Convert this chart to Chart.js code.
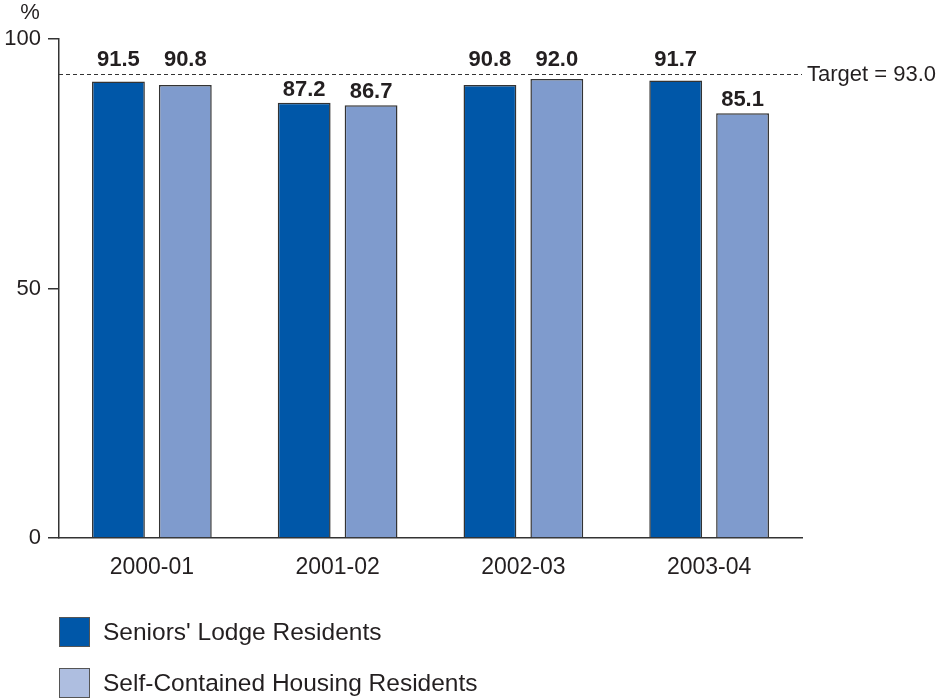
<!DOCTYPE html>
<html>
<head>
<meta charset="utf-8">
<script src="https://cdn.jsdelivr.net/npm/chart.js@4.4.1/dist/chart.umd.min.js"></script>
<style>
  html, body { margin: 0; padding: 0; background: #fff; }
  #wrap { position: relative; width: 940px; height: 698px; font-family: "Liberation Sans", Arial, sans-serif; color: #231f20; }
  #chart { position: absolute; left: 0; top: 0; }
  .leg { position: absolute; left: 59px; display: flex; align-items: center; font-size: 24.5px; }
  .leg .box { width: 29px; height: 28px; border: 1.5px solid #555; margin-right: 13px; }
</style>
</head>
<body>
<div id="wrap">
  <canvas id="chart" width="940" height="698"></canvas>
  <div class="leg" style="top:617px"><span class="box" style="background:#0057a8"></span><span id="leg0"></span></div>
  <div class="leg" style="top:668px"><span class="box" style="background:#aebee0"></span><span id="leg1"></span></div>
</div>
<script>
// ---- dados ----
const years = ['2000-01', '2001-02', '2002-03', '2003-04'];
const seriesNames = ["Seniors' Lodge Residents", 'Self-Contained Housing Residents'];
const lodge = [91.5, 87.2, 90.8, 91.7];
const selfContained = [90.8, 86.7, 92.0, 85.1];
const yTicks = [0, 50, 100];
const TARGET = 93.0;

const INK = '#231f20';
const FONT = '"Liberation Sans", Arial, sans-serif';

document.getElementById('leg0').textContent = seriesNames[0];
document.getElementById('leg1').textContent = seriesNames[1];

// linha de meta tracejada + rótulo à direita
const targetLine = {
  id: 'targetLine',
  beforeDatasetsDraw(chart) {
    const { ctx, chartArea, scales } = chart;
    const y = Math.round(scales.y.getPixelForValue(TARGET)) + 0.5;
    ctx.save();
    ctx.strokeStyle = '#333';
    ctx.lineWidth = 1;
    ctx.setLineDash([4, 3]);
    ctx.beginPath();
    ctx.moveTo(chartArea.left, y);
    ctx.lineTo(chartArea.right, y);
    ctx.stroke();
    ctx.setLineDash([]);
    ctx.fillStyle = INK;
    ctx.font = '22px ' + FONT;
    ctx.textAlign = 'left';
    ctx.textBaseline = 'middle';
    ctx.fillText('Target = ' + TARGET.toFixed(1), chartArea.right + 5, y);
    // unidade acima do eixo
    ctx.font = '22px ' + FONT;
    ctx.textAlign = 'center';
    ctx.fillText('%', 30, 13);
    ctx.restore();
  }
};

// valores em cima das barras (sobem acima da meta quando encostam nela)
const barValues = {
  id: 'barValues',
  afterDatasetsDraw(chart) {
    const { ctx, scales } = chart;
    const ty = scales.y.getPixelForValue(TARGET);
    ctx.save();
    ctx.fillStyle = INK;
    ctx.font = 'bold 22px ' + FONT;
    ctx.textAlign = 'center';
    ctx.textBaseline = 'alphabetic';
    chart.data.datasets.forEach((ds, i) => {
      chart.getDatasetMeta(i).data.forEach((bar, j) => {
        let base = bar.y - 7;
        if (base > ty - 4 && base - 16 < ty + 4) base = ty - 8;
        ctx.fillText(ds.data[j].toFixed(1), bar.x, base);
      });
    });
    ctx.restore();
  }
};

new Chart(document.getElementById('chart'), {
  type: 'bar',
  data: {
    labels: years,
    datasets: [
      { label: seriesNames[0], data: lodge, backgroundColor: '#0057a8' },
      { label: seriesNames[1], data: selfContained, backgroundColor: '#7f9bcd' }
    ].map(d => Object.assign(d, {
      borderColor: '#333', borderWidth: 1.5,
      categoryPercentage: 0.72, barPercentage: 0.79
    }))
  },
  options: {
    responsive: false,
    animation: false,
    layout: { padding: { top: 39, right: 138, bottom: 120, left: 0 } },
    plugins: { legend: { display: false }, tooltip: { enabled: false } },
    scales: {
      x: {
        grid: { display: false, drawTicks: false },
        border: { display: true, color: '#333', width: 1.5 },
        ticks: { color: INK, font: { family: FONT, size: 23 }, padding: 16 },
        afterFit(s) { s.height = 40; }
      },
      y: {
        min: 0, max: 100,
        afterBuildTicks(s) { s.ticks = yTicks.map(v => ({ value: v })); },
        grid: { drawOnChartArea: false, drawTicks: true, tickLength: 11, color: '#333', lineWidth: 1.5 },
        border: { display: true, color: '#333', width: 1.5 },
        ticks: { color: INK, font: { family: FONT, size: 22 }, padding: 7 },
        afterFit(s) { s.width = 59; }
      }
    }
  },
  plugins: [targetLine, barValues]
});
</script>
</body>
</html>
